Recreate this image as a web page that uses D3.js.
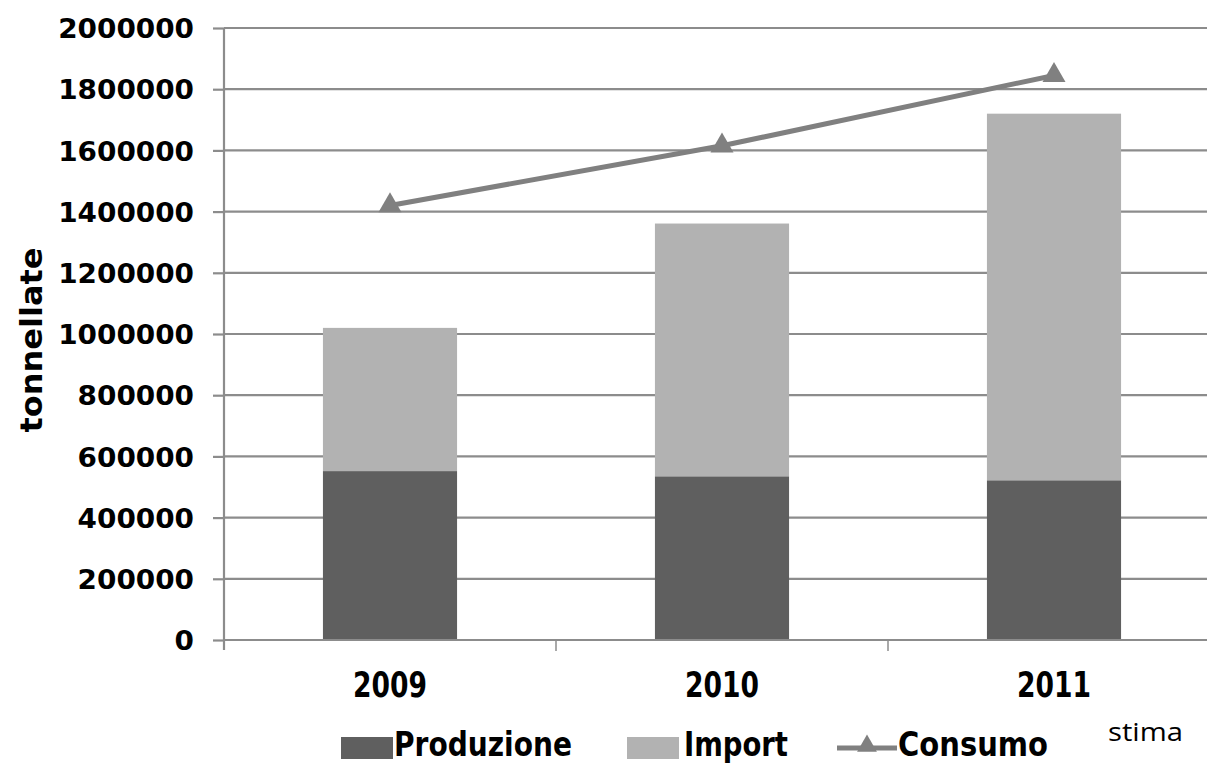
<!DOCTYPE html>
<html>
<head>
<meta charset="utf-8">
<script src="https://cdn.jsdelivr.net/npm/d3@7"></script>
<style>
  html, body { margin: 0; padding: 0; background: #fff; }
  svg { display: block; }
</style>
</head>
<body>
<script>
// Rice supply balance (tonnes) per year
const years = ["2009", "2010", "2011"];
const produzione = [552000, 535000, 522000];
const importVals = [468000, 826000, 1198000];
const consumo = [1420000, 1615000, 1845000];
const yTicks = [0, 200000, 400000, 600000, 800000, 1000000, 1200000, 1400000, 1600000, 1800000, 2000000];
const seriesNames = ["Produzione", "Import", "Consumo"];

const W = 1207, H = 764;
const colProd = "#5f5f5f", colImp = "#b2b2b2", colLine = "#808080", colGrid = "#8c8c8c";
const font = "'DejaVu Sans', sans-serif";

const svg = d3.select("body").append("svg").attr("width", W).attr("height", H);
svg.append("rect").attr("width", W).attr("height", H).attr("fill", "#fff");

const x = d3.scaleBand().domain(years).range([224, 1220]).paddingInner(0.596).paddingOuter(0.298);
const y = d3.scaleLinear().domain([0, 2000000]).range([640, 28]);

// horizontal gridlines
svg.append("g").selectAll("line").data(yTicks.slice(1)).join("line")
  .attr("x1", 224).attr("x2", W)
  .attr("y1", d => y(d)).attr("y2", d => y(d))
  .attr("stroke", colGrid).attr("stroke-width", 2.2);

// stacked bars
const stack = years.map((yr, i) => ({ yr, p: produzione[i], im: importVals[i] }));
const bars = svg.append("g");
bars.selectAll("rect.prod").data(stack).join("rect").attr("class", "prod")
  .attr("x", d => x(d.yr)).attr("width", x.bandwidth())
  .attr("y", d => y(d.p)).attr("height", d => y(0) - y(d.p))
  .attr("fill", colProd);
bars.selectAll("rect.imp").data(stack).join("rect").attr("class", "imp")
  .attr("x", d => x(d.yr)).attr("width", x.bandwidth())
  .attr("y", d => y(d.p + d.im)).attr("height", d => y(d.p) - y(d.p + d.im))
  .attr("fill", colImp);

// y axis
const yAxis = svg.append("g").attr("transform", "translate(224,0)")
  .call(d3.axisLeft(y).tickValues(yTicks).tickSize(11).tickPadding(19).tickFormat(d3.format("d")));
yAxis.select(".domain").attr("stroke", colGrid).attr("stroke-width", 2.2)
  .attr("d", `M0,${y(2000000)}V${y(0) + 10}`);
yAxis.selectAll(".tick line").attr("stroke", colGrid).attr("stroke-width", 2.2);
yAxis.selectAll(".tick text")
  .attr("font-family", font).attr("font-weight", "bold").attr("font-size", 27)
  .attr("fill", "#000").attr("dy", "0.36em")
  .attr("textLength", d => String(d).length * 19.4).attr("lengthAdjust", "spacingAndGlyphs");

// x axis
const bounds = [224, 224 + x.step(), 224 + 2 * x.step()];
const xg = svg.append("g");
xg.append("line").attr("x1", 224).attr("x2", W).attr("y1", y(0)).attr("y2", y(0))
  .attr("stroke", colGrid).attr("stroke-width", 2.2);
xg.selectAll("line.tk").data(bounds.slice(1)).join("line").attr("class", "tk")
  .attr("x1", d => d).attr("x2", d => d).attr("y1", y(0)).attr("y2", y(0) + 11)
  .attr("stroke", colGrid).attr("stroke-width", 1.5);
xg.selectAll("text").data(years).join("text")
  .attr("x", d => x(d) + x.bandwidth() / 2).attr("y", 697)
  .attr("text-anchor", "middle")
  .attr("font-family", font).attr("font-weight", "bold").attr("font-size", 36)
  .attr("textLength", 74).attr("lengthAdjust", "spacingAndGlyphs")
  .text(d => d);

// consumption line with triangle markers
const pts = years.map((yr, i) => [x(yr) + x.bandwidth() / 2, y(consumo[i])]);
svg.append("path").attr("d", d3.line()(pts))
  .attr("fill", "none").attr("stroke", colLine).attr("stroke-width", 5);
svg.append("g").selectAll("path").data(pts).join("path")
  .attr("transform", d => `translate(${d[0]},${d[1]})`)
  .attr("d", d3.symbol(d3.symbolTriangle, 230)())
  .attr("fill", colLine);

// y axis title
svg.append("text")
  .attr("transform", "translate(42,340) rotate(-90)")
  .attr("text-anchor", "middle")
  .attr("font-family", font).attr("font-weight", "bold").attr("font-size", 30)
  .attr("textLength", 185).attr("lengthAdjust", "spacingAndGlyphs")
  .text("tonnellate");

// legend
const lg = svg.append("g");
lg.append("rect").attr("x", 341).attr("y", 737).attr("width", 52).attr("height", 22).attr("fill", colProd);
lg.append("rect").attr("x", 627).attr("y", 737).attr("width", 52).attr("height", 22).attr("fill", colImp);
lg.append("line").attr("x1", 837).attr("x2", 897).attr("y1", 748).attr("y2", 748)
  .attr("stroke", colLine).attr("stroke-width", 5);
lg.append("path").attr("transform", "translate(867,746)")
  .attr("d", d3.symbol(d3.symbolTriangle, 170)()).attr("fill", colLine);
const legendText = [
  { t: seriesNames[0], x: 394, w: 178 },
  { t: seriesNames[1], x: 684, w: 104 },
  { t: seriesNames[2], x: 898, w: 150 }
];
lg.selectAll("text").data(legendText).join("text")
  .attr("x", d => d.x).attr("y", 756)
  .attr("font-family", font).attr("font-weight", "bold").attr("font-size", 34)
  .attr("textLength", d => d.w).attr("lengthAdjust", "spacingAndGlyphs")
  .text(d => d.t);

svg.append("text").attr("x", 1108).attr("y", 741)
  .attr("font-family", "'Open Sans', sans-serif").attr("font-size", 25)
  .attr("textLength", 75).attr("lengthAdjust", "spacingAndGlyphs")
  .text("stima");
</script>
</body>
</html>
